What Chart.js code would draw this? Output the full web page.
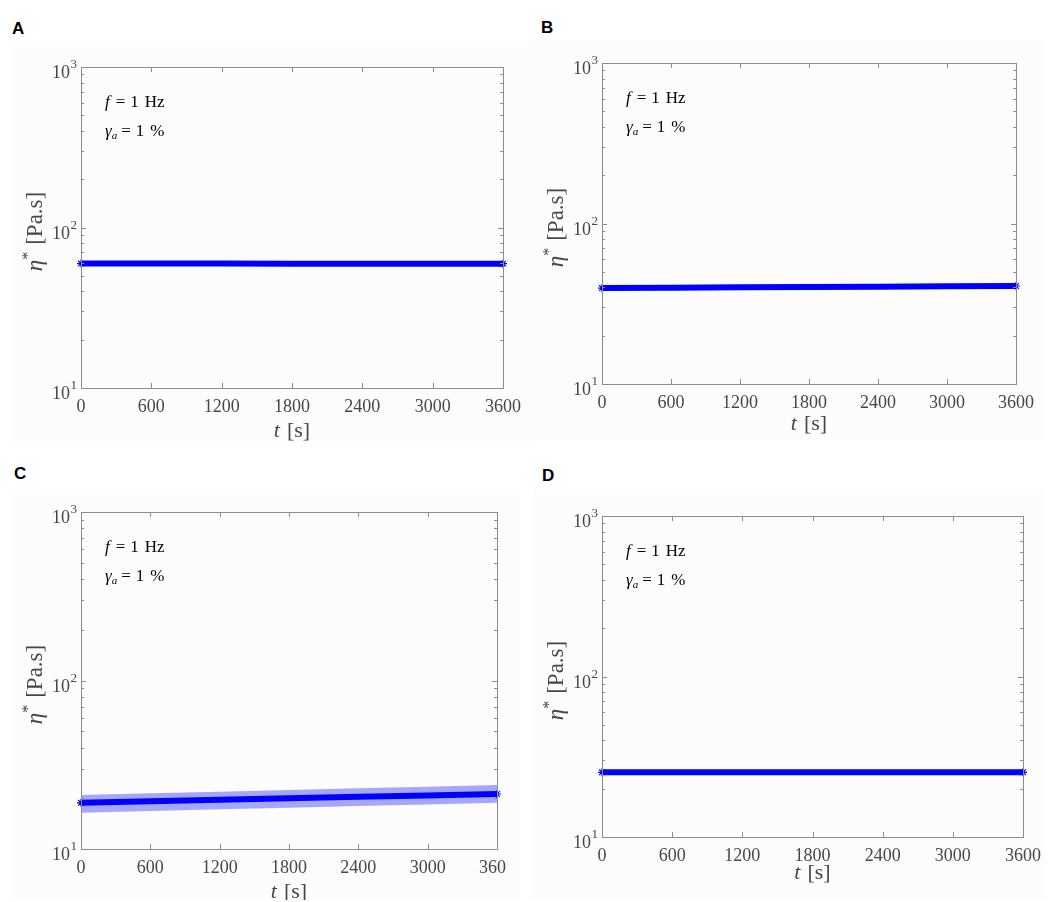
<!DOCTYPE html>
<html>
<head>
<meta charset="utf-8">
<title>Complex viscosity vs time</title>
<script src="https://cdn.jsdelivr.net/npm/chart.js@4.4.0/dist/chart.umd.min.js"></script>
<style>
  body { margin: 0; background: #fff; width: 1053px; height: 902px; position: relative; overflow: hidden; }
  .bg { position: absolute; background: #fcfcfc; }
  .tag { position: absolute; font: bold 17px "Liberation Sans", Arial, sans-serif; line-height: 17px; color: #000; }
  canvas { position: absolute; }
</style>
</head>
<body>
<div class="bg" style="left:10px;top:42px;width:525px;height:400px"></div>
<div class="bg" style="left:535px;top:40px;width:510px;height:400px"></div>
<div class="bg" style="left:10px;top:490px;width:510px;height:410px"></div>
<div class="bg" style="left:533px;top:490px;width:512px;height:410px"></div>

<div class="tag" style="left:12px;top:20px">A</div>
<div class="tag" style="left:541px;top:19px">B</div>
<div class="tag" style="left:14px;top:465px">C</div>
<div class="tag" style="left:542px;top:467px">D</div>

<canvas id="panelA"></canvas>
<canvas id="panelB"></canvas>
<canvas id="panelC"></canvas>
<canvas id="panelD"></canvas>

<script>
// time axis (s) and complex viscosity readings (Pa.s)
const timeSec   = [0, 600, 1200, 1800, 2400, 3000, 3600];
const etaA      = [59.6, 59.6, 59.6, 59.5, 59.5, 59.5, 59.5];
const etaB      = [39.6, 39.8, 40.0, 40.2, 40.4, 40.6, 40.8];
const etaC      = [18.8, 19.2, 19.6, 20.0, 20.4, 20.8, 21.2];
const etaCUpper = [20.9, 21.4, 21.9, 22.4, 22.9, 23.4, 24.0];
const etaCLower = [16.4, 16.8, 17.2, 17.6, 18.0, 18.4, 18.8];
const etaD      = [25.3, 25.3, 25.3, 25.3, 25.3, 25.3, 25.3];

// axis ticks
const xTicks = [0, 600, 1200, 1800, 2400, 3000, 3600];
const yTickValues = [10, 20, 30, 40, 50, 60, 70, 80, 90,
                     100, 200, 300, 400, 500, 600, 700, 800, 900, 1000];
const yDecades = [10, 100, 1000];

const SERIF = "'Liberation Serif', 'DejaVu Serif', serif";
const INK = '#474747';
const AXIS_GREY = '#8c8c8c';
const BLUE = '#0000ff';

function drawRich(ctx, parts, x, baseline, align) {
  let total = 0;
  parts.forEach(p => { ctx.font = p.font; total += (p.gap || 0) + ctx.measureText(p.text).width; });
  let cx = align === 'center' ? x - total / 2 : (align === 'right' ? x - total : x);
  parts.forEach(p => {
    ctx.font = p.font;
    cx += p.gap || 0;
    ctx.fillText(p.text, cx, baseline + (p.dy || 0));
    cx += ctx.measureText(p.text).width;
  });
}

// MATLAB-ish box with inward ticks, decade labels, titles and annotation
const matlabAxes = {
  id: 'matlabAxes',
  afterDatasetsDraw(chart, args, opts) {
    const { ctx, chartArea: a, scales: { x, y } } = chart;
    ctx.save();
    ctx.strokeStyle = AXIS_GREY;
    ctx.lineWidth = 1;
    ctx.strokeRect(Math.round(a.left) + 0.5, Math.round(a.top) + 0.5,
                   Math.round(a.right - a.left), Math.round(a.bottom - a.top));
    ctx.beginPath();
    x.ticks.forEach(t => {
      const px = Math.round(x.getPixelForValue(t.value)) + 0.5;
      const len = xTicks.includes(t.value) ? 5 : 3;
      ctx.moveTo(px, a.bottom); ctx.lineTo(px, a.bottom - len);
      ctx.moveTo(px, a.top); ctx.lineTo(px, a.top + len);
    });
    y.ticks.forEach(t => {
      const py = Math.round(y.getPixelForValue(t.value)) + 0.5;
      const len = yDecades.includes(t.value) ? 5 : 3;
      ctx.moveTo(a.left, py); ctx.lineTo(a.left + len, py);
      ctx.moveTo(a.right, py); ctx.lineTo(a.right - len, py);
    });
    ctx.stroke();

    ctx.fillStyle = INK;
    ctx.textAlign = 'left';
    ctx.textBaseline = 'alphabetic';
    // decade labels 10^n
    yDecades.forEach(v => {
      const py = y.getPixelForValue(v);
      const exp = String(Math.round(Math.log10(v)));
      drawRich(ctx, [
        { text: '10', font: '18px ' + SERIF },
        { text: exp, font: '13px ' + SERIF, dy: -10, gap: 0.5 }
      ], a.left - 4, py + 11, 'right');
    });

    // x title: t [s]
    drawRich(ctx, [
      { text: 't', font: 'italic 22px ' + SERIF },
      { text: '[s]', font: '22px ' + SERIF, gap: 7 }
    ], (a.left + a.right) / 2, a.bottom + opts.xTitleGap + 6, 'center');

    // y title: eta* [Pa.s]
    ctx.save();
    ctx.translate(a.left - 46, (a.top + a.bottom) / 2 + 4);
    ctx.rotate(-Math.PI / 2);
    drawRich(ctx, [
      { text: 'η', font: 'italic 23px ' + SERIF },
      { text: '*', font: '16px ' + SERIF, dy: -9 },
      { text: '[Pa.s]', font: '23px ' + SERIF, gap: 7 }
    ], 0, 7, 'center');
    ctx.restore();

    // annotation
    ctx.fillStyle = '#000';
    const tx = a.left + 24;
    drawRich(ctx, [
      { text: 'f', font: 'italic 17px ' + SERIF },
      { text: '=', font: '17px ' + SERIF, gap: 6 },
      { text: '1', font: '17px ' + SERIF, gap: 5 },
      { text: 'Hz', font: '17px ' + SERIF, gap: 6 }
    ], tx, a.top + 40, 'left');
    drawRich(ctx, [
      { text: 'γ', font: 'italic 17px ' + SERIF },
      { text: 'a', font: 'italic 11px ' + SERIF, dy: 3 },
      { text: '=', font: '17px ' + SERIF, gap: 4 },
      { text: '1', font: '17px ' + SERIF, gap: 5 },
      { text: '%', font: '17px ' + SERIF, gap: 6 }
    ], tx, a.top + 69, 'left');
    ctx.restore();
  }
};

function toPoints(values) {
  return timeSec.map((t, i) => ({ x: t, y: values[i] }));
}

function mainLine(values) {
  return {
    data: toPoints(values),
    borderColor: BLUE,
    borderWidth: 6,
    pointStyle: 'star',
    pointRadius: c => (c.dataIndex === 0 || c.dataIndex === values.length - 1) ? 4 : 0,
    pointBorderColor: BLUE,
    pointBorderWidth: 1.2,
    fill: false,
    clip: false
  };
}

function makePanel(id, box, area, datasets, xTitleGap) {
  const canvas = document.getElementById(id);
  canvas.width = box.w;
  canvas.height = box.h;
  canvas.style.left = box.left + 'px';
  canvas.style.top = box.top + 'px';
  const yWidth = area.left - box.left;
  const xHeight = box.top + box.h - area.bottom;
  new Chart(canvas, {
    type: 'line',
    data: { datasets: datasets },
    options: {
      responsive: false,
      animation: false,
      devicePixelRatio: 1,
      layout: { padding: { left: 0, top: area.top - box.top, right: box.left + box.w - area.right, bottom: 0 } },
      plugins: {
        legend: { display: false },
        tooltip: { enabled: false },
        matlabAxes: { xTitleGap: xTitleGap }
      },
      scales: {
        x: {
          type: 'linear',
          min: 0,
          max: 3600,
          grid: { display: false, drawTicks: false },
          border: { display: false },
          ticks: {
            stepSize: 100,
            maxTicksLimit: 100,
            autoSkip: false,
            maxRotation: 0,
            padding: 8,
            color: INK,
            font: { family: SERIF, size: 18, lineHeight: 1.2 },
            callback: v => xTicks.includes(v) ? String(v) : null
          },
          afterFit: s => {
            s.height = xHeight;
            s.paddingLeft = s.paddingRight = s.paddingTop = s.paddingBottom = 0;
          }
        },
        y: {
          type: 'logarithmic',
          min: 10,
          max: 1000,
          grid: { display: false, drawTicks: false },
          border: { display: false },
          ticks: { display: false },
          afterBuildTicks: s => { s.ticks = yTickValues.map(v => ({ value: v })); },
          afterFit: s => {
            s.width = yWidth;
            s.paddingLeft = s.paddingRight = s.paddingTop = s.paddingBottom = 0;
          }
        }
      }
    },
    plugins: [matlabAxes]
  });
}

makePanel('panelA', { left: 10, top: 42, w: 525, h: 400 },
  { left: 81, top: 67, right: 503, bottom: 388 }, [mainLine(etaA)], 43);

makePanel('panelB', { left: 535, top: 40, w: 510, h: 400 },
  { left: 602, top: 63, right: 1016, bottom: 384 }, [mainLine(etaB)], 40);

makePanel('panelC', { left: 10, top: 490, w: 496, h: 410 },
  { left: 81, top: 512, right: 497, bottom: 849 }, [
    mainLine(etaC),
    { data: toPoints(etaCUpper), borderWidth: 0, pointRadius: 0,
      backgroundColor: 'rgba(0,0,255,0.34)', fill: '+1' },
    { data: toPoints(etaCLower), borderWidth: 0, pointRadius: 0, fill: false }
  ], 43);

makePanel('panelD', { left: 533, top: 490, w: 512, h: 410 },
  { left: 602, top: 516, right: 1023, bottom: 837 }, [mainLine(etaD)], 36);
</script>
</body>
</html>
